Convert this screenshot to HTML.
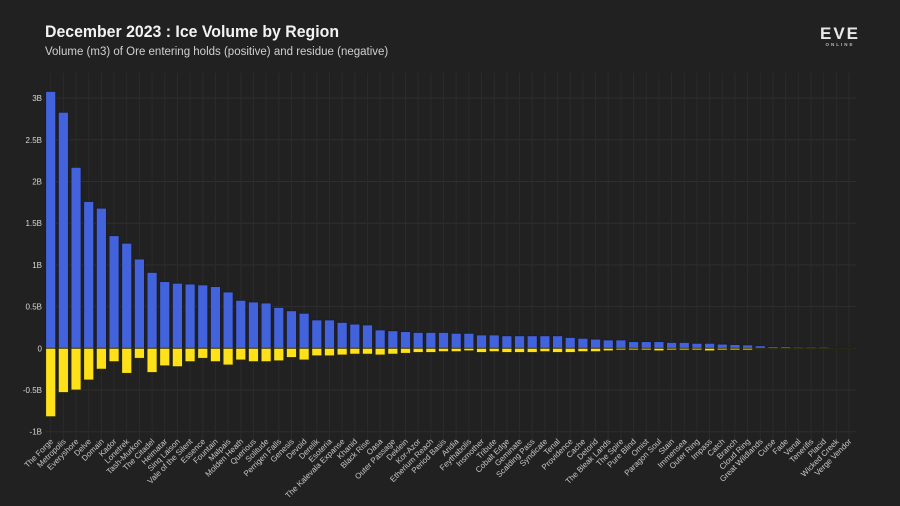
<!DOCTYPE html>
<html><head><meta charset="utf-8"><style>
html,body{margin:0;padding:0;background:#212121;}
svg{display:block;}
text{font-family:"Liberation Sans",sans-serif;}
</style></head><body>
<svg id="chart" width="900" height="506" viewBox="0 0 900 506">
<rect width="900" height="506" fill="#212121"/>
<text x="45" y="37" fill="#f2f2f2" font-size="17" font-weight="bold" textLength="294" lengthAdjust="spacingAndGlyphs">December 2023 : Ice Volume by Region</text>
<text x="45" y="55" fill="#d0d0d0" font-size="11.5">Volume (m3) of Ore entering holds (positive) and residue (negative)</text>
<g>
<text x="840" y="39" fill="#e8e8e8" font-size="17" font-weight="bold" text-anchor="middle" letter-spacing="2">EVE</text>
<text x="840" y="46" fill="#bbbbbb" font-size="4.5" font-weight="bold" text-anchor="middle" letter-spacing="2">ONLINE</text>
</g>
<g id="grid"></g>
<g id="bars"></g>
<g id="ylabels"></g>
<g id="xlabels"></g>
</svg>
<script>
const categories = ["The Forge","Metropolis","Everyshore","Delve","Domain","Kador","Lonetrek","Tash-Murkon","The Citadel","Heimatar","Sinq Laison","Vale of the Silent","Essence","Fountain","Malpais","Molden Heath","Querious","Solitude","Perrigen Falls","Genesis","Devoid","Derelik","Esoteria","The Kalevala Expanse","Khanid","Black Rise","Oasa","Outer Passage","Deklein","Kor-Azor","Etherium Reach","Period Basis","Aridia","Feythabolis","Insmother","Tribute","Cobalt Edge","Geminate","Scalding Pass","Syndicate","Tenal","Providence","Cache","Detorid","The Bleak Lands","The Spire","Pure Blind","Omist","Paragon Soul","Stain","Immensea","Outer Ring","Impass","Catch","Branch","Cloud Ring","Great Wildlands","Curse","Fade","Venal","Tenerifis","Placid","Wicked Creek","Verge Vendor"];
const positiveValues = [3.08,2.83,2.17,1.76,1.68,1.35,1.26,1.07,0.91,0.80,0.78,0.77,0.76,0.74,0.675,0.575,0.555,0.543,0.49,0.45,0.42,0.34,0.34,0.31,0.29,0.28,0.22,0.21,0.20,0.19,0.19,0.19,0.18,0.18,0.16,0.16,0.15,0.15,0.15,0.15,0.15,0.13,0.12,0.11,0.10,0.10,0.08,0.08,0.08,0.07,0.07,0.06,0.06,0.05,0.045,0.04,0.03,0.02,0.02,0.015,0.015,0.015,0.01,0.005];
const negativeValues = [-0.82,-0.53,-0.50,-0.38,-0.25,-0.16,-0.30,-0.12,-0.29,-0.21,-0.22,-0.16,-0.12,-0.16,-0.20,-0.14,-0.16,-0.16,-0.15,-0.11,-0.14,-0.09,-0.09,-0.08,-0.07,-0.07,-0.08,-0.07,-0.06,-0.05,-0.05,-0.04,-0.04,-0.03,-0.05,-0.04,-0.05,-0.05,-0.05,-0.04,-0.05,-0.05,-0.04,-0.04,-0.03,-0.02,-0.02,-0.02,-0.03,-0.02,-0.02,-0.02,-0.03,-0.02,-0.02,-0.02,-0.01,-0.01,-0.01,-0.01,-0.01,-0.01,-0.005,-0.002];
const yTicks = [-1,-0.5,0,0.5,1,1.5,2,2.5,3];
const yTickLabels = ["-1B","-0.5B","0","0.5B","1B","1.5B","2B","2.5B","3B"];

const NS = "http://www.w3.org/2000/svg";
const zeroY = 348.3, perB = 83.4, x0 = 50.7, step = (849 - 50.7) / (categories.length - 1), bw = 10;
function yScale(v){ return zeroY - v * perB; }
function xScale(i){ return x0 + i * step; }
function mk(tag, attrs, parent){ const e = document.createElementNS(NS, tag); for (const k in attrs) e.setAttribute(k, attrs[k]); parent.appendChild(e); return e; }

const grid = document.getElementById('grid');
const bars = document.getElementById('bars');
const yl = document.getElementById('ylabels');
const xl = document.getElementById('xlabels');

yTicks.forEach((t, i) => {
  const y = yScale(t);
  const ln = mk('line', {x1: 45, x2: 856, y1: y, y2: y, stroke: '#2f2f2f', 'stroke-width': 1}, grid);
  
  
  const tx = mk('text', {x: 42, y: y + 3, fill: '#d8d8d8', 'font-size': 8, 'text-anchor': 'end'}, yl);
  tx.textContent = yTickLabels[i];
  
  
});

categories.forEach((c, i) => {
  const cx = xScale(i);
  const vl = mk('line', {x1: cx, x2: cx, y1: 73, y2: 440, stroke: '#2b2b2b', 'stroke-width': 1}, grid);
  
  

  const p = positiveValues[i];
  const rp = mk('rect', {x: cx - bw/2, y: yScale(p), width: bw, height: Math.max(0.5, zeroY - yScale(p)), fill: '#4263dc', stroke: '#1a1a2a', 'stroke-width': 0.8}, bars);
  
  

  const n = negativeValues[i];
  const rn = mk('rect', {x: cx - bw/2, y: zeroY, width: bw, height: Math.max(0.5, yScale(n) - zeroY), fill: '#ffe119', stroke: '#2a2a10', 'stroke-width': 0.8}, bars);
  
  

  const lt = mk('text', {x: cx + 3, y: 442, fill: '#c8c8c8', 'font-size': 8, 'text-anchor': 'end', transform: `rotate(-45 ${cx + 3} 442)`}, xl);
  lt.textContent = c;
  
  
});
</script>
</body></html>
